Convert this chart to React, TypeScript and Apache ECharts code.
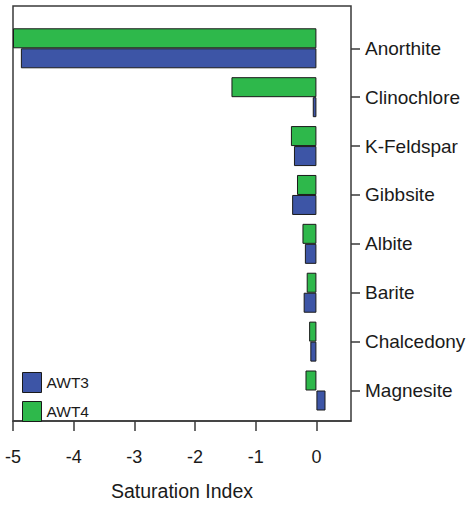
import React, { useEffect, useRef } from "react";
import * as echarts from "echarts";

const minerals = ["Anorthite", "Clinochlore", "K-Feldspar", "Gibbsite", "Albite", "Barite", "Chalcedony", "Magnesite"];
const awt3 = [-4.87, -0.06, -0.37, -0.40, -0.19, -0.21, -0.10, 0.15];
const awt4 = [-5.0, -1.40, -0.42, -0.32, -0.23, -0.16, -0.12, -0.18];
const xMin = -5;
const xMax = 0.57;
const xTitle = "Saturation Index";

const FONT = "'Liberation Sans', Arial, Helvetica, sans-serif";
const BLUE = "#3d55a6";
const GREEN = "#2eb84b";
const INK = "#1a1a1a";

export default function App() {
  const ref = useRef<HTMLDivElement>(null);
  useEffect(() => {
    if (!ref.current) return;
    const chart = echarts.init(ref.current, null, { renderer: "svg" });
    chart.setOption({
      animation: false,
      backgroundColor: "#ffffff",
      textStyle: { fontFamily: FONT },
      legend: {
        data: ["AWT3", "AWT4"],
        orient: "vertical",
        left: 22,
        top: 372,
        padding: 0,
        itemWidth: 19,
        itemHeight: 20,
        itemGap: 8,
        icon: "rect",
        itemStyle: { borderWidth: 1, borderColor: INK },
        textStyle: { fontFamily: FONT, fontSize: 15.5, color: INK, padding: [0, 0, 0, 0] },
      },
      grid: [
        { left: 13, right: 123, top: 6, bottom: 74, show: true, borderColor: "#3a3a3a", borderWidth: 1.5, backgroundColor: "transparent" },
        { left: 13, right: 123, top: 23.85, bottom: 91.05 },
      ],
      xAxis: [
        {
          gridIndex: 0,
          type: "value",
          min: xMin,
          max: xMax,
          interval: 1,
          splitLine: { show: false },
          axisLine: { show: true, lineStyle: { color: "#3a3a3a", width: 1.5 } },
          axisTick: { show: true, length: 10, lineStyle: { color: "#3a3a3a", width: 1.5 } },
          axisLabel: { fontFamily: FONT, fontSize: 18, color: INK, margin: 27, showMaxLabel: false },
          name: xTitle,
          nameLocation: "middle",
          nameGap: 60,
          nameTextStyle: { fontFamily: FONT, fontSize: 19.5, color: INK },
        },
        {
          gridIndex: 1,
          type: "value",
          min: xMin,
          max: xMax,
          show: false,
          splitLine: { show: false },
        },
      ],
      yAxis: [
        { gridIndex: 0, type: "value", show: false, splitLine: { show: false } },
        {
          gridIndex: 1,
          type: "category",
          data: minerals,
          inverse: true,
          position: "right",
          axisLine: { show: false, onZero: false },
          axisTick: { show: true, alignWithLabel: true, inside: false, length: 9, lineStyle: { color: "#3a3a3a", width: 1.5 } },
          axisLabel: { fontFamily: FONT, fontSize: 19, color: INK, margin: 14 },
          splitLine: { show: false },
        },
      ],
      series: [
        {
          name: "AWT4",
          type: "bar",
          xAxisIndex: 1,
          yAxisIndex: 1,
          data: awt4,
          barWidth: 20,
          barGap: "0%",
          itemStyle: { color: GREEN, borderColor: INK, borderWidth: 1 },
        },
        {
          name: "AWT3",
          type: "bar",
          xAxisIndex: 1,
          yAxisIndex: 1,
          data: awt3,
          barWidth: 20,
          barGap: "0%",
          itemStyle: { color: BLUE, borderColor: INK, borderWidth: 1 },
        },
      ],
    });
    return () => chart.dispose();
  }, []);
  return <div ref={ref} style={{ position: "fixed", left: 0, top: 0, width: 474, height: 506 }} />;
}
